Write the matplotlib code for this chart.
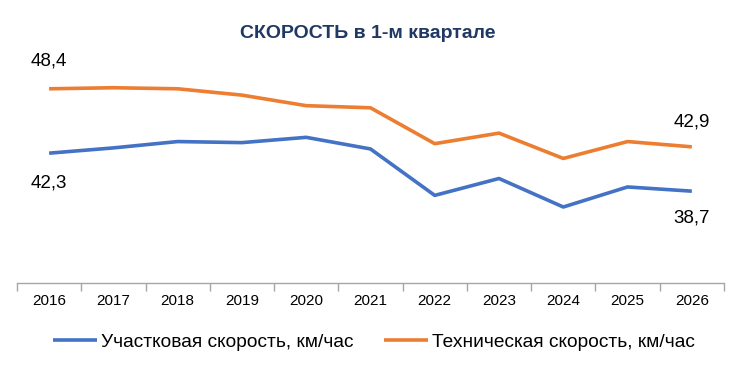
import matplotlib
matplotlib.use("Agg")
import matplotlib.pyplot as plt
import numpy as np

years = ["2016", "2017", "2018", "2019", "2020", "2021", "2022", "2023", "2024", "2025", "2026"]
uchastkovaya = [42.3, 42.8, 43.4, 43.3, 43.8, 42.7, 38.3, 39.9, 37.2, 39.1, 38.7]
tekhnicheskaya = [48.4, 48.5, 48.4, 47.8, 46.8, 46.6, 43.2, 44.2, 41.8, 43.4, 42.9]
series_names = ["Участковая скорость, км/час", "Техническая скорость, км/час"]
title = "СКОРОСТЬ в 1-м квартале"

plt.rcParams['font.family'] = ['Liberation Sans', 'DejaVu Sans']

fig = plt.figure(figsize=(7.51, 3.71), dpi=100)
ax = fig.add_axes([0.0226, 0.2372, 0.9414, 0.569])
x = np.arange(len(years))
blue = "#4472C4"
orange = "#ED7D31"
ax.plot(x, uchastkovaya, color=blue, lw=2.6, label=series_names[0], solid_capstyle='butt')
ax.plot(x, tekhnicheskaya, color=orange, lw=2.6, label=series_names[1], solid_capstyle='butt')

ax.set_xlim(-0.5, len(years) - 0.5)
ax.set_ylim(30, 50)
ax.set_yticks([])
for s in ["top", "right", "left"]:
    ax.spines[s].set_visible(False)
ax.spines["bottom"].set_color("#A6A6A6")
ax.spines["bottom"].set_linewidth(1.0)
ax.set_xticks(x)
ax.set_xticklabels(years, fontsize=11)
ax.tick_params(axis='x', length=0, pad=8)
ax.set_xticks(np.arange(-0.5, len(years)), minor=True)
ax.tick_params(axis='x', which='minor', length=6, color="#A6A6A6", width=1.0)

lab_kw = dict(ha='center', fontsize=13.5, color='#000000')
ax.annotate(f"{tekhnicheskaya[0]}".replace('.', ','), (x[0], tekhnicheskaya[0]), xytext=(0, 14), textcoords='offset points', va='bottom', **lab_kw)
ax.annotate(f"{uchastkovaya[0]}".replace('.', ','), (x[0], uchastkovaya[0]), xytext=(0, -15), textcoords='offset points', va='top', **lab_kw)
ax.annotate(f"{tekhnicheskaya[-1]}".replace('.', ','), (x[-1], tekhnicheskaya[-1]), xytext=(0, 12), textcoords='offset points', va='bottom', **lab_kw)
ax.annotate(f"{uchastkovaya[-1]}".replace('.', ','), (x[-1], uchastkovaya[-1]), xytext=(0, -13), textcoords='offset points', va='top', **lab_kw)

fig.text(0.49, 0.91, title, ha='center', va='center', fontsize=14, fontweight='bold', color='#1F3864')

fig.legend(loc='center', bbox_to_anchor=(0.498, 0.078), ncol=2, frameon=False, fontsize=13.8,
           handlelength=2.3, columnspacing=1.6, handletextpad=0.2)

fig.savefig("out.png", dpi=100)
